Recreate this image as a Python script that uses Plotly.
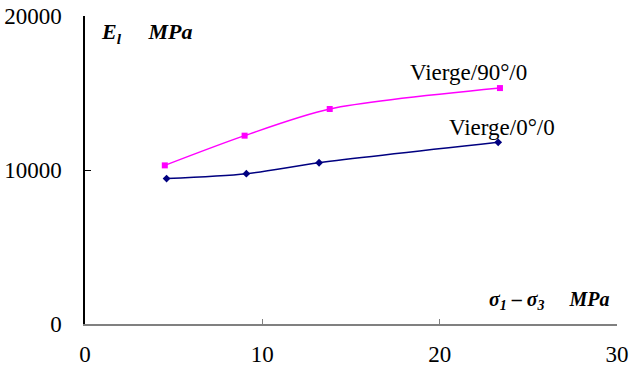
import plotly.graph_objects as go

sigma_90 = [4.5, 9.0, 13.8, 23.4]
E_90 = [10300, 12230, 13960, 15320]
sigma_0 = [4.6, 9.1, 13.2, 23.3]
E_0 = [9440, 9760, 10470, 11800]

x_ticks = [0, 10, 20, 30]
y_ticks = [0, 10000, 20000]
y_ticktext = ["0", "10000", "20000"]

font = "Liberation Serif"

fig = go.Figure()
fig.add_trace(go.Scatter(x=sigma_90, y=E_90, mode="lines+markers",
                         line=dict(color="#FF00FF", width=1.5, shape="spline", smoothing=0.8),
                         marker=dict(symbol="square", size=6, color="#FF00FF"),
                         name="Vierge/90°/0", showlegend=False))
fig.add_trace(go.Scatter(x=sigma_0, y=E_0, mode="lines+markers",
                         line=dict(color="#000080", width=1.5, shape="spline", smoothing=0.8),
                         marker=dict(symbol="diamond", size=6, color="#000080"),
                         name="Vierge/0°/0", showlegend=False))

fig.update_layout(
    width=629, height=372,
    margin=dict(l=85, r=12, t=16, b=48, autoexpand=False),
    plot_bgcolor="white", paper_bgcolor="white",
    font=dict(family=font, size=23, color="black"),
    xaxis=dict(range=[0, 30], tickvals=x_ticks, showgrid=False, zeroline=False,
               showline=True, linecolor="#808080", linewidth=1.5,
               ticks="inside", ticklen=5, tickcolor="#808080", automargin=False,
               tickfont=dict(family=font, size=23), ticklabelstandoff=9),
    yaxis=dict(range=[0, 20000], tickvals=y_ticks, ticktext=y_ticktext,
               showgrid=False, zeroline=False,
               showline=True, linecolor="black", linewidth=1.5,
               ticks="inside", ticklen=6, tickcolor="black", automargin=False,
               tickfont=dict(family=font, size=23), ticklabelstandoff=17),
)

fig.add_annotation(x=18.2, y=16300, xref="x", yref="y", text="Vierge/90°/0",
                   showarrow=False, xanchor="left", yanchor="middle",
                   font=dict(family=font, size=23))
fig.add_annotation(x=20.4, y=12730, xref="x", yref="y", text="Vierge/0°/0",
                   showarrow=False, xanchor="left", yanchor="middle",
                   font=dict(family=font, size=23))
fig.add_annotation(x=0.8, y=18900, xref="x", yref="y",
                   text="<b><i>E</i></b><sub><b><i>l</i></b></sub>     <b><i>MPa</i></b>",
                   showarrow=False, xanchor="left", yanchor="middle",
                   font=dict(family=font, size=22))
fig.add_annotation(x=29.7, y=1500, xref="x", yref="y",
                   text="<b><i>σ</i></b><sub><b><i>1</i></b></sub><b> – </b><b><i>σ</i></b><sub><b><i>3</i></b></sub>     <b><i>MPa</i></b>",
                   showarrow=False, xanchor="right", yanchor="middle",
                   font=dict(family=font, size=20))

fig.write_html("out.html")
